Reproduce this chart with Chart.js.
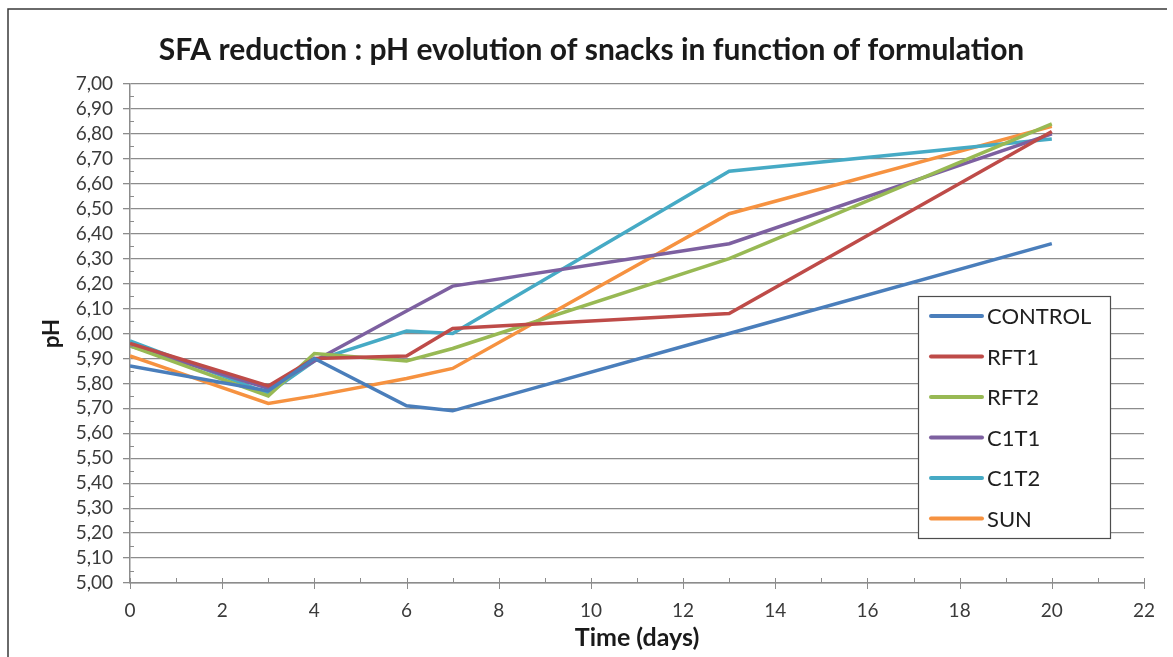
<!DOCTYPE html>
<html>
<head>
<meta charset="utf-8">
<title>SFA reduction : pH evolution</title>
<script src="https://cdn.jsdelivr.net/npm/chart.js@4/dist/chart.umd.min.js"></script>
<style>
  html, body { margin: 0; padding: 0; background: #fff; }
  #wrap { width: 1173px; height: 657px; position: relative; }
</style>
</head>
<body>
<div id="wrap"><canvas id="phChart" width="1173" height="657"></canvas></div>
<script>
// sampling days and measured pH per formulation
const days = [0, 3, 4, 6, 7, 13, 20];
const control = [5.87, 5.77, 5.90, 5.71, 5.69, 6.00, 6.36];
const rft1 = [5.96, 5.79, 5.90, 5.91, 6.02, 6.08, 6.81];
const rft2 = [5.95, 5.75, 5.92, 5.89, 5.94, 6.30, 6.84];
const c1t1 = [5.95, 5.78, 5.89, 6.09, 6.19, 6.36, 6.80];
const c1t2 = [5.97, 5.76, 5.89, 6.01, 6.00, 6.65, 6.78];
const sun = [5.91, 5.72, 5.75, 5.82, 5.86, 6.48, 6.83];

const seriesNames = ['CONTROL', 'RFT1', 'RFT2', 'C1T1', 'C1T2', 'SUN'];
const seriesColors = ['#4A7EBB', '#BE4B48', '#98B954', '#7D60A0', '#46AAC5', '#F69240'];
const seriesValues = [control, rft1, rft2, c1t1, c1t2, sun];

const FONT = 'Lato, Calibri, "Open Sans", sans-serif';
const GRID = '#8c8c8c';

const datasets = seriesValues.map((vals, i) => ({
    label: seriesNames[i],
    data: days.map((d, j) => ({ x: d, y: vals[j] })),
    borderColor: seriesColors[i],
    backgroundColor: seriesColors[i],
    borderWidth: 3.5,
    pointRadius: 0,
    tension: 0,
    fill: false
}));

// outer frame, minor ticks on both axes and the boxed legend
const decorations = {
    id: 'decorations',
    beforeDraw(chart) {
        const ctx = chart.ctx;
        ctx.save();
        ctx.strokeStyle = '#3a3a3a';
        ctx.lineWidth = 1.5;
        ctx.beginPath();
        ctx.moveTo(8, 700);
        ctx.lineTo(8, 9);
        ctx.lineTo(1167, 9);
        ctx.stroke();
        ctx.restore();
    },
    afterDatasetsDraw(chart) {
        const ctx = chart.ctx;
        const xs = chart.scales.x, ys = chart.scales.y;
        const area = chart.chartArea;
        ctx.save();
        ctx.strokeStyle = GRID;
        ctx.lineWidth = 1;
        ctx.beginPath();
        // y minor ticks every 0.05, drawn inside the axis
        for (let k = 1; k < 40; k += 2) {
            const py = Math.round(ys.getPixelForValue(5 + k * 0.05)) + 0.5;
            ctx.moveTo(area.left, py);
            ctx.lineTo(area.left + 4, py);
        }
        // x ticks: major cross the axis, minor sit above it
        for (let d = 0; d <= 22; d++) {
            const px = Math.round(xs.getPixelForValue(d)) + 0.5;
            if (d % 2 === 0) {
                ctx.moveTo(px, area.bottom - 5);
                ctx.lineTo(px, area.bottom + 6);
            } else {
                ctx.moveTo(px, area.bottom - 5);
                ctx.lineTo(px, area.bottom);
            }
        }
        ctx.stroke();

        // legend box
        const bx = 918, by = 296, bw = 192, bh = 242;
        ctx.fillStyle = '#fff';
        ctx.fillRect(bx, by, bw, bh);
        ctx.strokeStyle = '#4d4d4d';
        ctx.lineWidth = 1.2;
        ctx.strokeRect(bx + 0.5, by + 0.5, bw, bh);
        ctx.font = '22px ' + FONT;
        ctx.textBaseline = 'middle';
        ctx.textAlign = 'left';
        chart.data.datasets.forEach((ds, i) => {
            const cy = 316 + i * 40.5;
            ctx.strokeStyle = ds.borderColor;
            ctx.lineWidth = 4;
            ctx.lineCap = 'round';
            ctx.beginPath();
            ctx.moveTo(931, cy);
            ctx.lineTo(982, cy);
            ctx.stroke();
            ctx.fillStyle = '#1f1f1f';
            ctx.fillText(ds.label, 987, cy + 1);
        });
        ctx.restore();
    }
};

new Chart(document.getElementById('phChart'), {
    type: 'line',
    data: { datasets: datasets },
    options: {
        responsive: false,
        animation: false,
        layout: { padding: { left: 39, right: 29, top: 0, bottom: 0 } },
        plugins: {
            legend: { display: false },
            tooltip: { enabled: false },
            title: {
                display: true,
                text: 'SFA reduction : pH evolution of snacks in function of formulation',
                color: '#1a1a1a',
                font: { family: FONT, size: 30, weight: 'bold', lineHeight: 1.2 },
                padding: { top: 32, bottom: 16 }
            }
        },
        scales: {
            x: {
                type: 'linear',
                min: 0,
                max: 22,
                afterFit: s => { s.height = 74; },
                ticks: {
                    stepSize: 2,
                    padding: 16,
                    color: '#3a3a3a',
                    font: { family: FONT, size: 19 }
                },
                grid: { display: false, drawTicks: false },
                border: { display: true, color: GRID, width: 1.5 },
                title: {
                    display: true,
                    text: 'Time (days)',
                    color: '#1a1a1a',
                    font: { family: FONT, size: 25, weight: 'bold', lineHeight: 1.2 },
                    padding: { top: 0, bottom: 4 }
                }
            },
            y: {
                min: 5,
                max: 7,
                afterFit: s => { s.width = 91; },
                ticks: {
                    stepSize: 0.1,
                    autoSkip: false,
                    padding: 10,
                    color: '#3a3a3a',
                    font: { family: FONT, size: 19 },
                    callback: v => Number(v).toFixed(2).replace('.', ',')
                },
                grid: {
                    color: GRID,
                    lineWidth: 1.3,
                    tickLength: 7,
                    tickColor: GRID
                },
                border: { display: true, color: GRID, width: 1.5 },
                title: {
                    display: true,
                    text: 'pH',
                    color: '#1a1a1a',
                    font: { family: FONT, size: 22, weight: 'bold', lineHeight: 1.2 },
                    padding: { top: 0, bottom: 0 }
                }
            }
        }
    },
    plugins: [decorations]
});
</script>
</body>
</html>
